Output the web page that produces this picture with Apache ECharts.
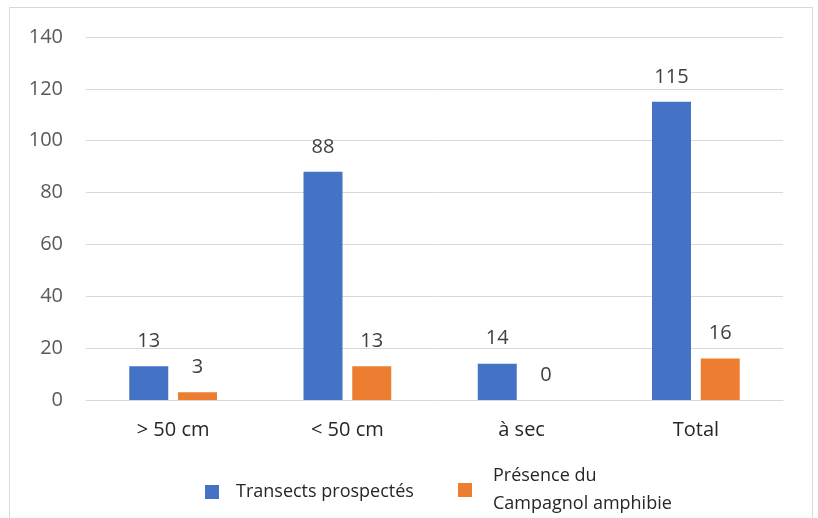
<!DOCTYPE html>
<html>
<head>
<meta charset="utf-8">
<script src="https://cdn.jsdelivr.net/npm/echarts@6/dist/echarts.min.js"></script>
<style>
  html, body { margin: 0; padding: 0; background: #fff; }
  #chart { width: 818px; height: 518px; }
</style>
</head>
<body>
<div id="chart"></div>
<script>
const categories = ['> 50 cm', '< 50 cm', 'à sec', 'Total'];
const seriesNames = ['Transects prospectés', 'Présence du\nCampagnol amphibie'];
const transects = [13, 88, 14, 115];
const presence = [3, 13, 0, 16];
const yTicks = { min: 0, max: 140, interval: 20 };

const FONT = 'Open Sans';
const chart = echarts.init(document.getElementById('chart'));
const labelStyle = {
  show: true, position: 'top', distance: 15,
  color: '#404040', fontSize: 20, fontFamily: FONT
};
chart.setOption({
  animation: false,
  backgroundColor: '#fff',
  graphic: [{
    type: 'rect', silent: true,
    shape: { x: 9.5, y: 7.5, width: 803, height: 540 },
    style: { fill: 'none', stroke: '#d9d9d9', lineWidth: 1 }
  }],
  grid: { left: 86, right: 35, top: 37, bottom: 118 },
  legend: [
    {
      data: [seriesNames[0]], left: 200, top: 478,
      itemWidth: 14, itemHeight: 14, icon: 'rect',
      textStyle: { color: '#262626', fontSize: 18, fontFamily: FONT, padding: [10, 0, 0, 12] }
    },
    {
      data: [seriesNames[1]], left: 453, top: 457,
      itemWidth: 14, itemHeight: 14, icon: 'rect',
      textStyle: { color: '#262626', fontSize: 18, fontFamily: FONT, lineHeight: 28, padding: [0, 0, 0, 16] }
    }
  ],
  xAxis: {
    type: 'category',
    data: categories,
    axisLine: { lineStyle: { color: '#d9d9d9', width: 1 } },
    axisTick: { show: false },
    axisLabel: { color: '#262626', fontSize: 20, fontFamily: FONT, margin: 20 }
  },
  yAxis: {
    type: 'value',
    min: yTicks.min, max: yTicks.max, interval: yTicks.interval,
    axisLine: { show: false },
    axisTick: { show: false },
    splitLine: { lineStyle: { color: '#d9d9d9', width: 1 } },
    axisLabel: { color: '#595959', fontSize: 20, fontFamily: FONT, margin: 23 }
  },
  series: [
    {
      name: seriesNames[0], type: 'bar', data: transects,
      barWidth: 39, barGap: '25%',
      itemStyle: { color: '#4472C4' },
      label: labelStyle
    },
    {
      name: seriesNames[1], type: 'bar', data: presence,
      barWidth: 39,
      itemStyle: { color: '#ED7D31' },
      label: labelStyle
    }
  ]
});
</script>
</body>
</html>
